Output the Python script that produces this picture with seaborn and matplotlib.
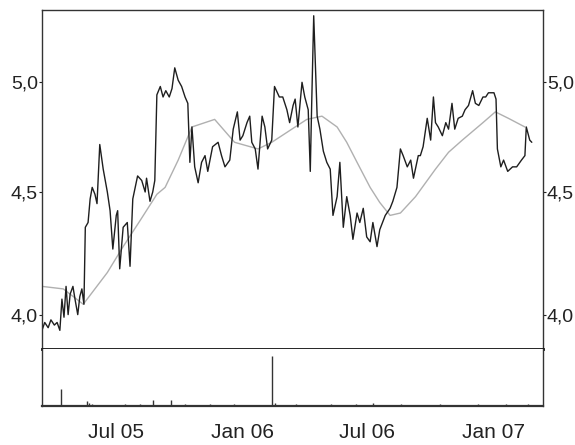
import pandas as pd
import matplotlib
matplotlib.use('Agg')
from matplotlib import pyplot as plt
from matplotlib.ticker import FixedLocator, FixedFormatter, NullLocator
import seaborn as sns

# price line
price_dates = ['2005-03-16', '2005-03-20', '2005-03-25', '2005-03-29', '2005-04-03', '2005-04-07',
               '2005-04-11', '2005-04-14', '2005-04-17', '2005-04-20', '2005-04-23', '2005-04-26',
               '2005-04-30', '2005-05-03', '2005-05-07', '2005-05-10', '2005-05-13', '2005-05-16',
               '2005-05-18', '2005-05-22', '2005-05-25', '2005-05-28', '2005-06-01', '2005-06-04',
               '2005-06-08', '2005-06-13', '2005-06-19', '2005-06-23', '2005-06-27', '2005-07-02',
               '2005-07-04', '2005-07-07', '2005-07-12', '2005-07-18', '2005-07-22', '2005-07-26',
               '2005-08-02', '2005-08-08', '2005-08-13', '2005-08-15', '2005-08-20', '2005-08-24',
               '2005-08-27', '2005-08-30', '2005-09-04', '2005-09-08', '2005-09-12', '2005-09-17',
               '2005-09-21', '2005-09-25', '2005-09-30', '2005-10-05', '2005-10-10', '2005-10-14',
               '2005-10-17', '2005-10-20', '2005-10-24', '2005-10-29', '2005-11-03', '2005-11-08',
               '2005-11-12', '2005-11-19', '2005-11-27', '2005-12-02', '2005-12-07', '2005-12-14',
               '2005-12-19', '2005-12-25', '2005-12-29', '2006-01-02', '2006-01-08', '2006-01-12',
               '2006-01-15', '2006-01-20', '2006-01-24', '2006-01-30', '2006-02-03', '2006-02-07',
               '2006-02-13', '2006-02-17', '2006-02-24', '2006-03-01', '2006-03-07', '2006-03-11',
               '2006-03-16', '2006-03-19', '2006-03-23', '2006-03-29', '2006-04-02', '2006-04-07',
               '2006-04-10', '2006-04-12', '2006-04-15', '2006-04-20', '2006-04-24', '2006-04-29',
               '2006-05-04', '2006-05-09', '2006-05-13', '2006-05-19', '2006-05-23', '2006-05-28',
               '2006-06-02', '2006-06-07', '2006-06-11', '2006-06-17', '2006-06-21', '2006-06-26',
               '2006-07-01', '2006-07-06', '2006-07-10', '2006-07-16', '2006-07-20', '2006-07-28',
               '2006-08-04', '2006-08-08', '2006-08-14', '2006-08-19', '2006-08-23', '2006-08-29',
               '2006-09-03', '2006-09-07', '2006-09-14', '2006-09-17', '2006-09-21', '2006-09-27',
               '2006-10-02', '2006-10-06', '2006-10-09', '2006-10-13', '2006-10-19', '2006-10-24',
               '2006-10-28', '2006-11-02', '2006-11-06', '2006-11-11', '2006-11-17', '2006-11-21',
               '2006-11-26', '2006-12-02', '2006-12-06', '2006-12-11', '2006-12-17', '2006-12-21',
               '2006-12-25', '2007-01-02', '2007-01-05', '2007-01-07', '2007-01-12', '2007-01-16',
               '2007-01-22', '2007-01-29', '2007-02-04', '2007-02-11', '2007-02-16', '2007-02-18',
               '2007-02-23', '2007-02-26']
price_values = [3.94, 3.97, 3.95, 3.98, 3.96, 3.97,
                3.94, 4.06, 3.99, 4.11, 4.00, 4.08,
                4.11, 4.06, 4.00, 4.07, 4.10, 4.04,
                4.35, 4.37, 4.47, 4.52, 4.49, 4.45,
                4.71, 4.60, 4.50, 4.42, 4.26, 4.40,
                4.42, 4.18, 4.35, 4.37, 4.19, 4.47,
                4.57, 4.55, 4.50, 4.56, 4.46, 4.50,
                4.55, 4.94, 4.98, 4.93, 4.96, 4.93,
                4.97, 5.07, 5.01, 4.98, 4.93, 4.90,
                4.63, 4.79, 4.61, 4.54, 4.63, 4.66,
                4.59, 4.70, 4.72, 4.66, 4.61, 4.64,
                4.78, 4.86, 4.73, 4.75, 4.81, 4.84,
                4.72, 4.69, 4.60, 4.84, 4.79, 4.69,
                4.73, 4.98, 4.93, 4.93, 4.87, 4.81,
                4.89, 4.92, 4.79, 5.00, 4.93, 4.87,
                4.59, 4.89, 5.33, 4.84, 4.78, 4.68,
                4.63, 4.60, 4.40, 4.48, 4.63, 4.35,
                4.48, 4.40, 4.30, 4.41, 4.37, 4.43,
                4.31, 4.29, 4.37, 4.27, 4.34, 4.40,
                4.43, 4.46, 4.52, 4.69, 4.66, 4.61,
                4.64, 4.56, 4.66, 4.66, 4.70, 4.83,
                4.73, 4.93, 4.81, 4.79, 4.75, 4.81,
                4.78, 4.90, 4.78, 4.83, 4.84, 4.87,
                4.89, 4.96, 4.90, 4.89, 4.93, 4.93,
                4.95, 4.95, 4.92, 4.69, 4.61, 4.64,
                4.59, 4.61, 4.61, 4.64, 4.66, 4.79,
                4.73, 4.72]

# moving average (grey)
ma_dates = ['2005-03-16', '2005-04-16', '2005-05-15', '2005-06-19', '2005-07-12', '2005-08-06',
            '2005-08-30', '2005-09-11', '2005-09-30', '2005-10-20', '2005-11-22', '2005-12-21',
            '2006-01-24', '2006-02-13', '2006-03-19', '2006-04-05', '2006-04-27', '2006-05-19',
            '2006-06-02', '2006-06-17', '2006-07-06', '2006-07-20', '2006-08-04', '2006-08-19',
            '2006-09-10', '2006-10-09', '2006-10-28', '2006-11-17', '2006-12-17', '2007-01-04',
            '2007-01-23', '2007-02-16']
ma_values = [4.11, 4.10, 4.04, 4.165, 4.27, 4.38,
             4.49, 4.52, 4.64, 4.79, 4.825, 4.72,
             4.69, 4.72, 4.79, 4.825, 4.84, 4.79,
             4.72, 4.63, 4.52, 4.455, 4.40, 4.41,
             4.48, 4.60, 4.675, 4.73, 4.81, 4.86,
             4.83, 4.79]

# volume (relative units)
vol_dates = ['2005-04-13', '2005-05-20', '2005-05-24', '2005-05-27', '2005-07-15', '2005-08-05',
             '2005-08-25', '2005-09-20', '2005-10-10', '2005-11-15', '2005-12-20', '2006-02-13',
             '2006-02-17', '2006-03-20', '2006-05-10', '2006-06-15', '2006-07-10', '2006-08-20',
             '2006-10-15', '2006-12-10', '2007-01-20', '2007-02-20']
vol_values = [30, 8, 6, 4, 3, 3,
              10, 11, 3, 3, 3, 88,
              5, 3, 4, 3, 6, 3,
              3, 3, 3, 4]

tick_dates = ['2005-07-01', '2006-01-01', '2006-07-01', '2007-01-01']
tick_labels = ['Jul 05', 'Jan 06', 'Jul 06', 'Jan 07']
y_ticks = [4.0, 4.5, 5.0]
y_labels = ['4,0', '4,5', '5,0']

sns.set_style('white')
plt.rcParams['font.family'] = ['Liberation Sans', 'DejaVu Sans']

price = pd.DataFrame({'date': pd.to_datetime(price_dates), 'price': price_values})
ma = pd.DataFrame({'date': pd.to_datetime(ma_dates), 'ma': ma_values})
vol = pd.DataFrame({'date': pd.to_datetime(vol_dates), 'vol': vol_values})

fig = plt.figure(figsize=(5.75, 4.45), dpi=100)
ax = fig.add_axes([0.073, 0.2157, 0.871, 0.762])
ax2 = fig.add_axes([0.073, 0.0876, 0.871, 0.128], sharex=ax)

sns.lineplot(data=ma, x='date', y='ma', ax=ax, color='#b0b0b0', lw=1.0)
sns.lineplot(data=price, x='date', y='price', ax=ax, color='#1e1e1e', lw=1.0)

ax.set_yscale('log')
ax.set_ylim(3.87, 5.36)
ax.set_xlim(pd.Timestamp('2005-03-16'), pd.Timestamp('2007-03-14'))
ax.yaxis.set_major_locator(FixedLocator(y_ticks))
ax.yaxis.set_major_formatter(FixedFormatter(y_labels))
ax.yaxis.set_minor_locator(NullLocator())
ax.tick_params(axis='y', left=True, right=True, labelleft=True, labelright=True,
               length=2, width=0.8, pad=1, labelsize=14, colors='#222')
ax.tick_params(axis='x', which='both', bottom=False, labelbottom=False)
ax.set_xlabel('')
ax.set_ylabel('')
for s in ax.spines.values():
    s.set_color('#333')
    s.set_linewidth(1.0)
ax.spines['bottom'].set_linewidth(2.0)
ax.spines['bottom'].set_color('#111')

ax2.vlines(vol['date'], 0, vol['vol'], color='#333', lw=1.0)
ax2.set_ylim(0, 100)
ax2.set_yticks([])
ax2.set_xticks(pd.to_datetime(tick_dates))
ax2.set_xticklabels(tick_labels)
ax2.xaxis.set_minor_locator(NullLocator())
ax2.tick_params(axis='x', which='both', length=0, pad=12, labelsize=15, colors='#222')
ax2.spines['top'].set_visible(False)
for s in ['left', 'right', 'bottom']:
    ax2.spines[s].set_color('#333')
    ax2.spines[s].set_linewidth(1.0)
ax2.spines['bottom'].set_linewidth(1.6)

plt.savefig('out.png', dpi=100)
